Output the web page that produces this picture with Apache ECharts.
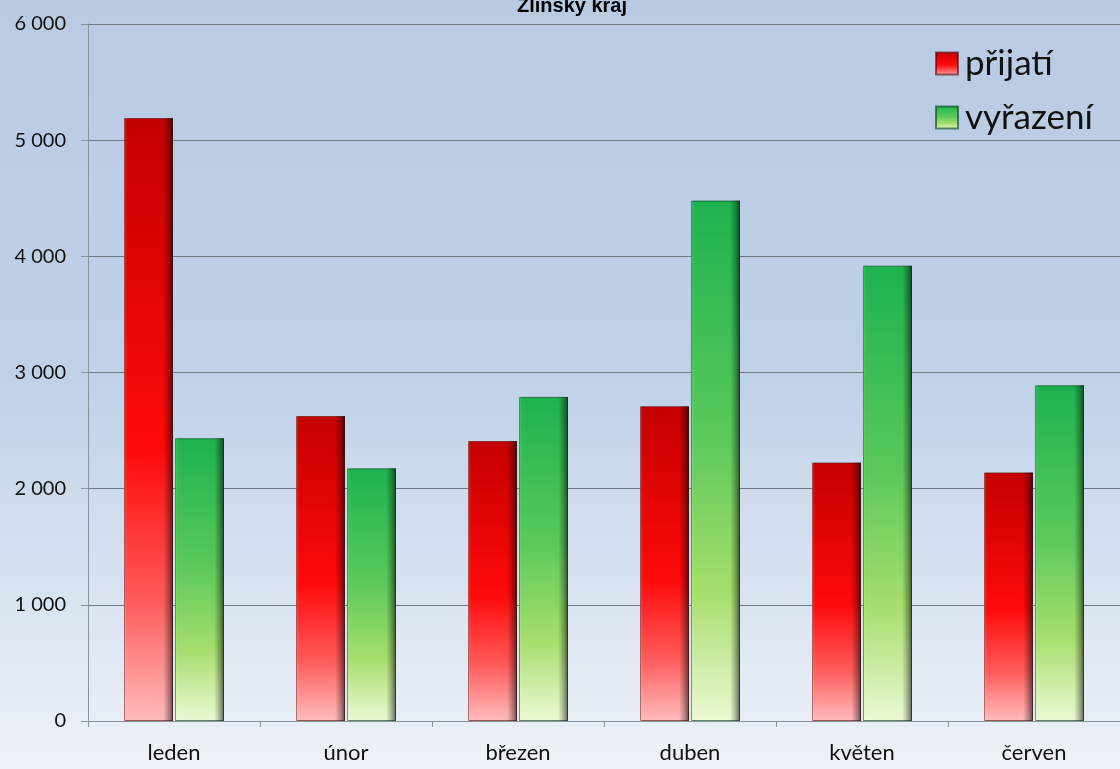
<!DOCTYPE html>
<html>
<head>
<meta charset="utf-8">
<script src="https://cdn.jsdelivr.net/npm/echarts@6/dist/echarts.min.js"></script>
<style>
html,body{margin:0;padding:0;}
#chart{width:1120px;height:769px;}
</style>
</head>
<body>
<div id="chart"></div>
<script>
const title = 'Zlínský kraj';
const categories = ['leden', 'únor', 'březen', 'duben', 'květen', 'červen'];
const seriesNames = ['přijatí', 'vyřazení'];
const prijati = [5190, 2625, 2410, 2710, 2225, 2140];
const vyrazeni = [2435, 2175, 2790, 4480, 3920, 2890];
const yTicks = [0, 1000, 2000, 3000, 4000, 5000, 6000];

const chart = echarts.init(document.getElementById('chart'));
const font = 'Lato, "Open Sans", sans-serif';
const redFill = new echarts.graphic.LinearGradient(0, 0, 0, 1, [
  {offset: 0, color: '#c40000'},
  {offset: 0.55, color: '#ff0a0a'},
  {offset: 0.8, color: '#ff5a5a'},
  {offset: 1, color: '#ffbcbc'}
]);
const greenFill = new echarts.graphic.LinearGradient(0, 0, 0, 1, [
  {offset: 0, color: '#1db24f'},
  {offset: 0.45, color: '#5ac95a'},
  {offset: 0.75, color: '#a6de6c'},
  {offset: 1, color: '#ecf9d4'}
]);
const bevel = new echarts.graphic.LinearGradient(0, 0, 1, 0, [
  {offset: 0, color: 'rgba(255,255,255,0.18)'},
  {offset: 0.06, color: 'rgba(255,255,255,0)'},
  {offset: 0.8, color: 'rgba(0,0,0,0)'},
  {offset: 0.92, color: 'rgba(0,0,0,0.3)'},
  {offset: 1, color: 'rgba(0,0,0,0.6)'}
]);
const barW = 49, gap = '4%';
chart.setOption({
  backgroundColor: new echarts.graphic.LinearGradient(0, 0, 0, 1, [
    {offset: 0, color: '#b8cbe3'},
    {offset: 0.5, color: '#c0d2e8'},
    {offset: 1, color: '#eef2f8'}
  ]),
  title: {
    text: title, left: 567, textAlign: 'center', top: -9,
    textStyle: {fontFamily: '"Liberation Sans", Arial, sans-serif', fontWeight: 'bold', fontSize: 20, color: '#000'}
  },
  legend: {
    orient: 'vertical', left: 930, top: 41, itemWidth: 22, itemHeight: 22, itemGap: 19,
    icon: 'rect',
    textStyle: {fontFamily: font, fontSize: 35, color: '#111', padding: [0,0,0,2]},
    data: seriesNames
  },
  grid: {left: 88, top: 24, width: 1044, height: 697, containLabel: false},
  xAxis: [{
    type: 'category', data: categories,
    axisLine: {lineStyle: {color: '#8a949e', width: 1}},
    axisTick: {show: true, length: 6, lineStyle: {color: '#8a949e'}},
    axisLabel: {fontFamily: font, fontSize: 22, color: '#111', margin: 21}
  }, {
    type: 'category', data: categories, show: false
  }],
  yAxis: {
    type: 'value', min: yTicks[0], max: yTicks[yTicks.length - 1], interval: 1000,
    axisLine: {show: true, lineStyle: {color: '#8a949e'}},
    axisTick: {show: true, length: 7, lineStyle: {color: '#8a949e'}},
    splitLine: {lineStyle: {color: '#6f7a86', width: 1}},
    axisLabel: {
      fontFamily: font, fontSize: 20, color: '#111', margin: 22,
      formatter: v => String(v).replace(/\B(?=(\d{3})+(?!\d))/g, ' ')
    }
  },
  series: [
    {
      name: seriesNames[0], type: 'bar', data: prijati,
      barWidth: barW, barGap: gap,
      itemStyle: {color: redFill, borderColor: 'rgba(90,0,0,0.6)', borderWidth: 1},
      emphasis: {disabled: true}
    },
    {
      name: seriesNames[1], type: 'bar', data: vyrazeni,
      barWidth: barW, barGap: gap,
      itemStyle: {color: greenFill, borderColor: 'rgba(0,60,20,0.6)', borderWidth: 1},
      emphasis: {disabled: true}
    },
    {
      type: 'bar', xAxisIndex: 1, data: prijati, barWidth: barW, barGap: gap,
      itemStyle: {color: bevel}, silent: true, tooltip: {show: false}
    },
    {
      type: 'bar', xAxisIndex: 1, data: vyrazeni, barWidth: barW, barGap: gap,
      itemStyle: {color: bevel}, silent: true, tooltip: {show: false}
    }
  ],
  animation: false
});
</script>
</body>
</html>
